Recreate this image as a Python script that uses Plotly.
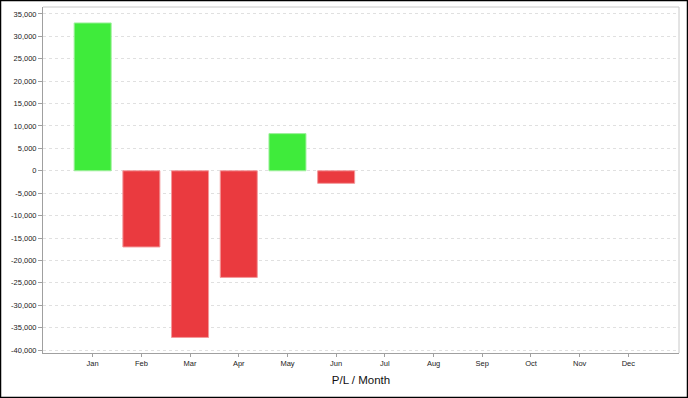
import plotly.graph_objects as go

months = ["Jan", "Feb", "Mar", "Apr", "May", "Jun", "Jul", "Aug", "Sep", "Oct", "Nov", "Dec"]
pl_values = [33000, -17000, -37200, -23800, 8300, -2800, None, None, None, None, None, None]
tick_vals = list(range(-40000, 35001, 5000))
tick_text = [f"{v:,}" for v in tick_vals]

GREEN = "#3feb3b"
RED = "#ea3a3f"
GREEN_EDGE = "#9ff09d"
RED_EDGE = "#f3999b"

colors = [GREEN if (v is not None and v >= 0) else RED for v in pl_values]
edges = [GREEN_EDGE if (v is not None and v >= 0) else RED_EDGE for v in pl_values]

W, H = 688, 398
ml, mr, mt, mb = 43, 9, 7, 45

fig = go.Figure()
fig.add_trace(go.Bar(
    x=months, y=pl_values,
    marker=dict(color=colors, line=dict(color=edges, width=1)),
    width=0.76,
    hoverinfo="x+y",
))

pw = W - ml - mr
ph = H - mt - mb
x0 = -ml / pw
x1 = 1 + mr / pw
y0 = -mb / ph
y1 = 1 + mt / ph

fig.update_layout(
    width=W, height=H,
    margin=dict(l=ml, r=mr, t=mt, b=mb),
    paper_bgcolor="white",
    plot_bgcolor="white",
    showlegend=False,
    font=dict(family="Liberation Sans, Arial, sans-serif", color="#222222"),
    xaxis=dict(
        type="category",
        categoryorder="array", categoryarray=months,
        range=[-1.02, 12.04],
        showline=True, linecolor="#a0a0a0", linewidth=1,
        ticks="outside", ticklen=3, tickcolor="#a0a0a0",
        showgrid=False, zeroline=False,
        tickfont=dict(size=7.5, color="#222222"),
        title=dict(text="P/L / Month", font=dict(size=11.5, color="#111111"), standoff=8),
        fixedrange=True,
    ),
    yaxis=dict(
        range=[-40670, 36560],
        tickvals=tick_vals, ticktext=tick_text,
        showline=True, linecolor="#a0a0a0", linewidth=1,
        ticks="outside", ticklen=4, tickcolor="#a0a0a0",
        showgrid=True, gridcolor="#e0e0e0", griddash="3px,3px", gridwidth=1,
        zeroline=False,
        tickfont=dict(size=7.5, color="#222222"),
        fixedrange=True,
    ),
    shapes=[
        dict(type="line", xref="paper", yref="paper", x0=0, x1=1, y0=1, y1=1,
             line=dict(color="#c8c8c8", width=1)),
        dict(type="line", xref="paper", yref="paper", x0=1, x1=1, y0=0, y1=1,
             line=dict(color="#c8c8c8", width=1)),
        dict(type="rect", xref="paper", yref="paper",
             x0=x0 + 0.5 / pw, x1=x1 - 0.5 / pw, y0=y0 + 0.5 / ph, y1=y1 - 0.5 / ph,
             line=dict(color="black", width=1.5), layer="above"),
    ],
)

fig.write_html("out.html")
